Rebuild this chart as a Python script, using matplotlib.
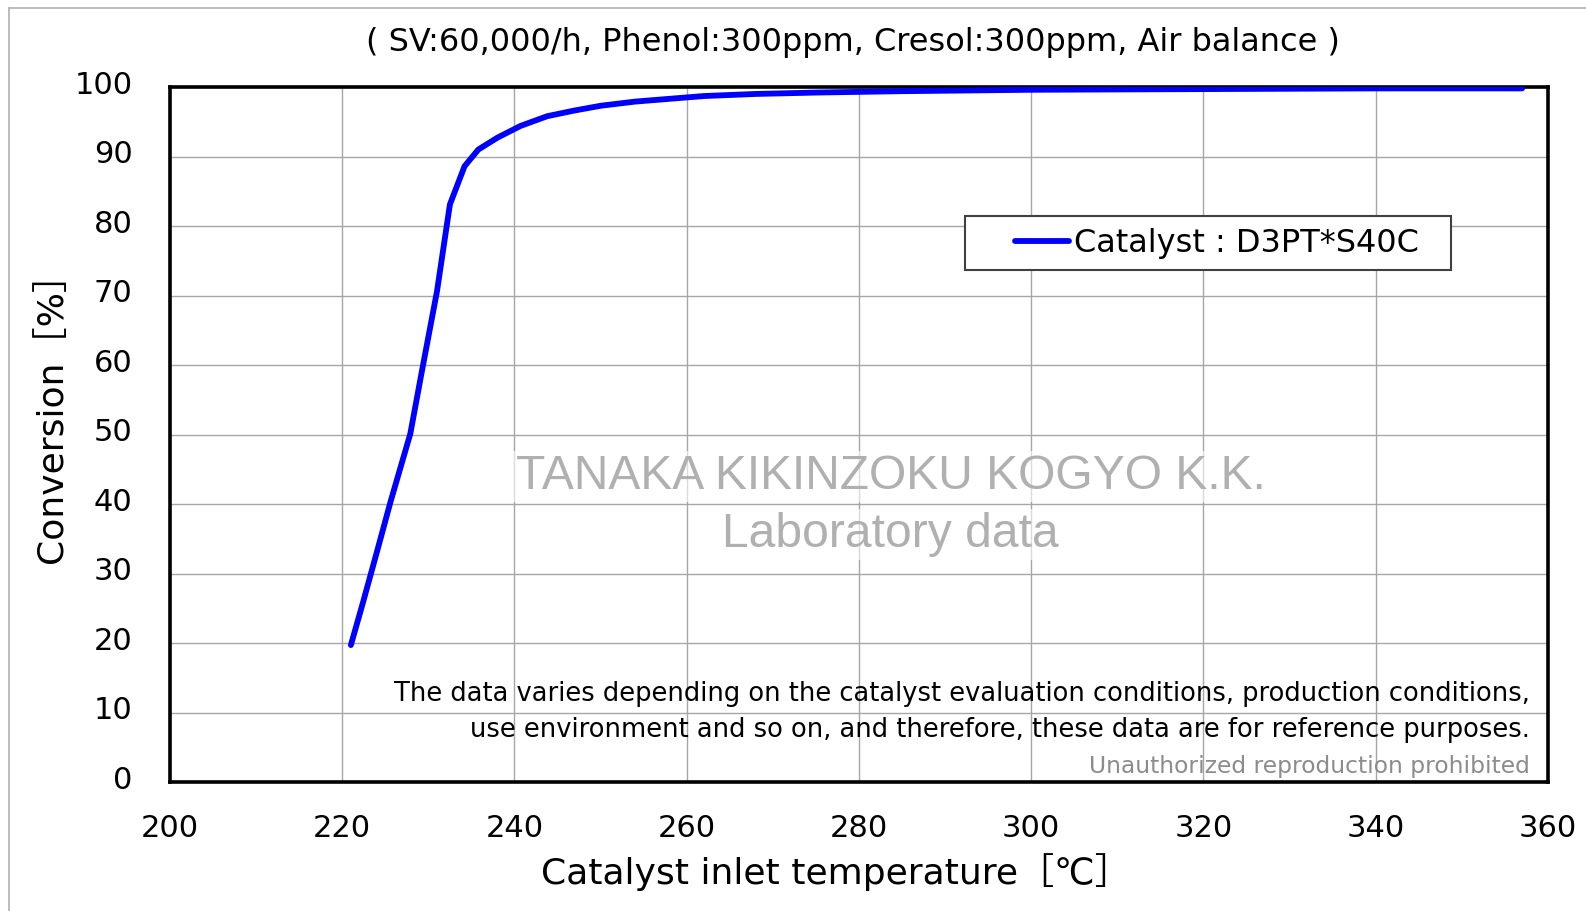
import numpy as np
import matplotlib.pyplot as plt
import matplotlib.transforms as mtransforms
from matplotlib.lines import Line2D
from matplotlib.legend_handler import HandlerLine2D

plt.rcParams['font.family'] = ['DejaVu Sans', 'Noto Sans CJK JP']

# Conversion curve (temperature in degC, conversion in %)
temp = [221.0, 222.4, 224.0, 225.6, 227.9, 229.2, 231.0, 232.5, 234.2, 235.8,
        238.0, 240.7, 243.8, 246.9, 250.0, 254.0, 258.0, 262.0, 268.0, 275.0,
        285.0, 300.0, 320.0, 340.0, 357.0]
conversion = [19.7, 25.8, 33.0, 40.3, 50.1, 58.8, 70.6, 83.1, 88.6, 91.0,
              92.7, 94.4, 95.8, 96.6, 97.3, 97.9, 98.3, 98.7, 99.0, 99.2,
              99.4, 99.6, 99.7, 99.8, 99.8]

series_label = 'Catalyst : D3PT*S40C'
title_text = '( SV:60,000/h, Phenol:300ppm, Cresol:300ppm, Air balance )'
notice_lines = ['The data varies depending on the catalyst evaluation conditions, production conditions,',
                'use environment and so on, and therefore, these data are for reference purposes.']
copyright_text = 'Unauthorized reproduction prohibited'
x_ticks = np.arange(200, 361, 20)
y_ticks = np.arange(0, 101, 10)

fig = plt.figure(figsize=(15.86, 9.11), dpi=100)
ax = fig.add_axes([0.1072, 0.1416, 0.8688, 0.7629])

# outer chart-area border (only left and top visible in the original)
fig.add_artist(Line2D([9 / 1586, 9 / 1586], [0, 1 - 8 / 911], color='#b0b0b0', lw=1.2))
fig.add_artist(Line2D([9 / 1586, 1], [1 - 8 / 911, 1 - 8 / 911], color='#b0b0b0', lw=1.2))

ax.plot(temp, conversion, color='#0000ff', linewidth=4.2,
        solid_capstyle='round', solid_joinstyle='round', label=series_label, zorder=4)

ax.set_xlim(200, 360)
ax.set_ylim(0, 100)
ax.set_xticks(x_ticks)
ax.set_yticks(y_ticks)
ax.tick_params(axis='both', length=0, labelsize=22)
ax.tick_params(axis='x', pad=23)
ax.tick_params(axis='y', pad=27)
ax.grid(color='#a6a6a6', linewidth=1.0)
ax.set_axisbelow(True)
for s in ax.spines.values():
    s.set_linewidth(2.6)
    s.set_color('black')

# y tick labels sit a little above their grid lines in the original
shift_up = mtransforms.ScaledTranslation(0, 0.05, fig.dpi_scale_trans)
for lbl in ax.get_yticklabels():
    lbl.set_transform(lbl.get_transform() + shift_up)

ax.set_xlabel('Catalyst inlet temperature［℃］', fontsize=26)
ax.set_ylabel('Conversion［%］', fontsize=26)
ax.xaxis.set_label_coords(0.483, -0.103)
ax.yaxis.set_label_coords(-0.073, 0.537)

fig.text(853 / 1586, 1 - 43 / 911, title_text, fontsize=23, ha='center', va='center')

leg = ax.legend(loc='upper left', bbox_to_anchor=(0.577, 0.737, 0.353, 0.077),
                mode='expand', borderaxespad=0,
                fancybox=False, edgecolor='#404040', framealpha=1, fontsize=23,
                handlelength=2.9, handletextpad=0.15, borderpad=0.36,
                handler_map={Line2D: HandlerLine2D(xpad=1.2)})
leg.get_frame().set_linewidth(1.5)

# watermark
wm_font = ['Liberation Sans', 'DejaVu Sans']
ax.text(0.523, 0.440, 'TANAKA KIKINZOKU KOGYO K.K.', transform=ax.transAxes,
        fontsize=34.6, color='#b0b0b0', ha='center', va='center', family=wm_font,
        bbox=dict(facecolor='white', alpha=0.6, edgecolor='none', pad=2))
ax.text(0.523, 0.356, 'Laboratory data', transform=ax.transAxes,
        fontsize=34.6, color='#b0b0b0', ha='center', va='center', family=wm_font,
        bbox=dict(facecolor='white', alpha=0.6, edgecolor='none', pad=2))

# disclaimer
ax.text(0.987, (782 - 694) / 695, notice_lines[0], transform=ax.transAxes,
        fontsize=18.5, ha='right', va='center')
ax.text(0.987, (782 - 730) / 695, notice_lines[1], transform=ax.transAxes,
        fontsize=18.5, ha='right', va='center')
ax.text(0.987, (782 - 766) / 695, copyright_text, transform=ax.transAxes,
        fontsize=16.8, color='#8c8c8c', ha='right', va='center')

fig.savefig('out.png', dpi=100)
